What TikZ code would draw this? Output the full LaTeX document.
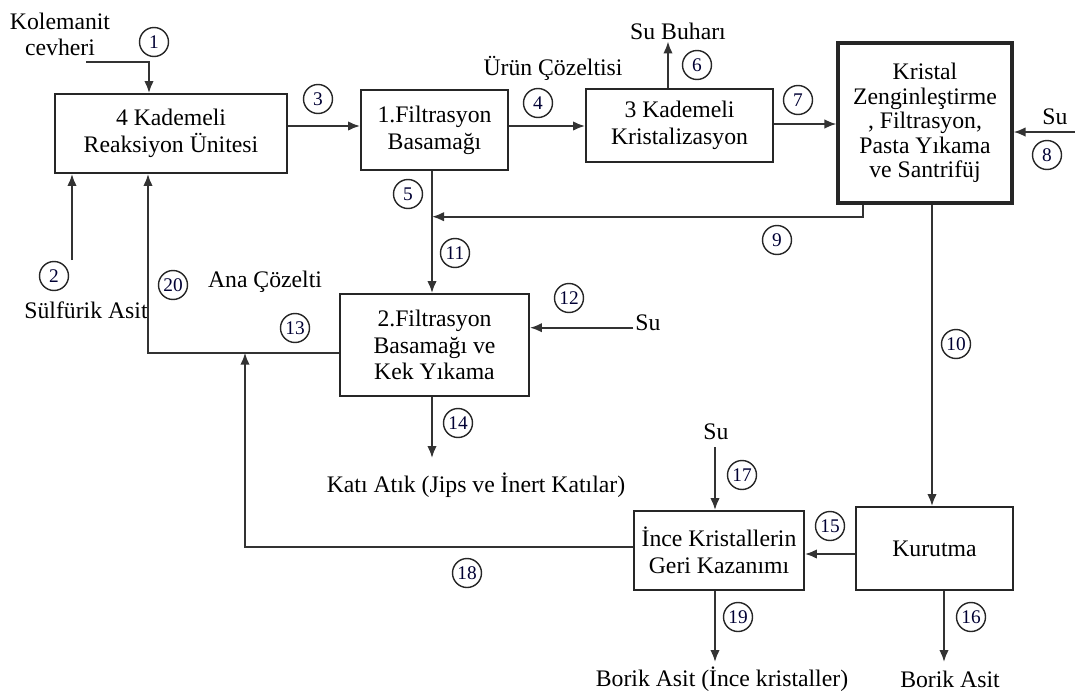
\documentclass[tikz,border=0pt]{standalone}
\usepackage{fontspec}
\setmainfont{Liberation Serif}
\usetikzlibrary{arrows.meta}

\begin{document}
\begin{tikzpicture}[x=0.02cm, y=-0.02cm, font=\fontsize{13.5}{15.2}\selectfont,
  unit/.style={draw=black!85, line width=1.1pt, align=center, inner sep=0pt},
  bigunit/.style={unit, line width=1.8pt},
  num/.style={circle, draw=black!85, line width=0.8pt, minimum size=0.58cm, inner sep=0pt,
    font=\fontsize{11}{11}\selectfont, text=blue!20!black},
  flow/.style={draw=black!80, line width=1.1pt, -{Latex[length=0.24cm, width=0.19cm]}},
  tag/.style={align=center, inner sep=1pt}
]
  \useasboundingbox (0,0) rectangle (1075,697);
  % ===== units =====
  \node[unit, minimum width=4.64cm, minimum height=1.58cm] (reak) at (171,133.5)
    {4 Kademeli\\Reaksiyon Ünitesi};
  \node[unit, minimum width=2.94cm, minimum height=1.6cm] (filt1) at (434.5,130)
    {1.Filtrasyon\\Basamağı};
  \node[unit, minimum width=3.74cm, minimum height=1.46cm] (krist) at (679.5,125.5)
    {3 Kademeli\\Kristalizasyon};
  \node[bigunit, minimum width=3.48cm, minimum height=3.2cm,
    font=\fontsize{13.5}{13.9}\selectfont] (zeng) at (925,123)
    {Kristal\\Zenginleştirme\\, Filtrasyon,\\Pasta Yıkama\\ve Santrifüj};
  \node[unit, minimum width=3.78cm, minimum height=2.04cm] (filt2) at (434.5,345)
    {2.Filtrasyon\\Basamağı ve\\Kek Yıkama};
  \node[unit, minimum width=3.14cm, minimum height=1.66cm] (kuru) at (934.5,548.5)
    {Kurutma};
  \node[unit, minimum width=3.4cm, minimum height=1.58cm] (ince) at (719,550.5)
    {İnce Kristallerin\\Geri Kazanımı};
  % ===== stream labels =====
  \node[tag, font=\fontsize{13.5}{14.7}\selectfont] (kol) at (60,34) {Kolemanit\\cevheri};
  \node[tag] (sulf) at (86,310) {Sülfürik Asit};
  \node[tag] (urun) at (553,68) {Ürün Çözeltisi};
  \node[tag] (buhar) at (678,31) {Su Buharı};
  \node[tag] (su8) at (1055,117) {Su};
  \node[tag] (ana) at (265,282) {Ana Çözelti};
  \node[tag] (su12) at (648,323) {Su};
  \node[tag] (atik) at (476,485) {Katı Atık (Jips ve İnert Katılar)};
  \node[tag] (su17) at (716,432) {Su};
  \node[tag] (bor1) at (722,679) {Borik Asit (İnce kristaller)};
  \node[tag] (bor2) at (950,679) {Borik Asit};
  % ===== junctions and free ends =====
  \coordinate (k1)  at (86,62);
  \coordinate (s2)  at (72,260);
  \coordinate (s8)  at (1075,132);
  \coordinate (j9)  at (432,216.7);
  \coordinate (j18) at (245,352.7);
  \coordinate (e14) at (432,458);
  \coordinate (s17) at (715,447);
  \coordinate (e19) at (715,662);
  \coordinate (e16) at (944,662);
  % ===== streams =====
  \draw[flow] (k1) -| (149,0 |- reak.north);                 % 1
  \draw[flow] (s2) -- (s2 |- reak.south);                     % 2
  \draw[flow] (reak.east |- 0,126) -- (filt1.west |- 0,126);  % 3
  \draw[flow] (filt1.east |- 0,126) -- (krist.west |- 0,126); % 4
  \draw[flow] (668,0 |- krist.north) -- (668,0 |- buhar.south); % 6
  \draw[flow] (krist.east |- 0,124) -- (zeng.west |- 0,124);  % 7
  \draw[flow] (s8) -- (zeng.east |- s8);                      % 8
  \draw[flow] (863,0 |- zeng.south) |- (j9);                  % 9
  \draw[flow] (932,0 |- zeng.south) -- (932,0 |- kuru.north); % 10
  \draw[flow] (j9 |- filt1.south) -- (j9 |- filt2.north);     % 5, 11
  \draw[flow] (su12.west |- 0,327.7) -- (filt2.east |- 0,327.7); % 12
  \draw[flow] (filt2.west |- j18) -| (148,0 |- reak.south);   % 13, 20
  \draw[flow] (e14 |- filt2.south) -- (e14);                  % 14
  \draw[flow] (kuru.west |- 0,554) -- (ince.east |- 0,554);   % 15
  \draw[flow] (e16 |- kuru.south) -- (e16);                   % 16
  \draw[flow] (s17) -- (s17 |- ince.north);                   % 17
  \draw[flow] (ince.west |- 0,546.7) -| (j18);                % 18
  \draw[flow] (e19 |- ince.south) -- (e19);                   % 19
  % ===== stream numbers =====
  \node[num] (n1)  at (154,42)  {1};
  \node[num] (n2)  at (54,276)  {2};
  \node[num] (n3)  at (318,99)  {3};
  \node[num] (n4)  at (538,103) {4};
  \node[num] (n5)  at (408,194) {5};
  \node[num] (n6)  at (697,65)  {6};
  \node[num] (n7)  at (798,100) {7};
  \node[num] (n8)  at (1047,155) {8};
  \node[num] (n9)  at (777,240) {9};
  \node[num] (n10) at (956,344) {10};
  \node[num] (n11) at (455,253) {11};
  \node[num] (n12) at (569,298) {12};
  \node[num] (n13) at (295,328) {13};
  \node[num] (n14) at (458,423) {14};
  \node[num] (n15) at (830,526) {15};
  \node[num] (n16) at (971,617) {16};
  \node[num] (n17) at (742,475) {17};
  \node[num] (n18) at (467,573) {18};
  \node[num] (n19) at (738,617) {19};
  \node[num] (n20) at (173,285) {20};
\end{tikzpicture}
\end{document}
